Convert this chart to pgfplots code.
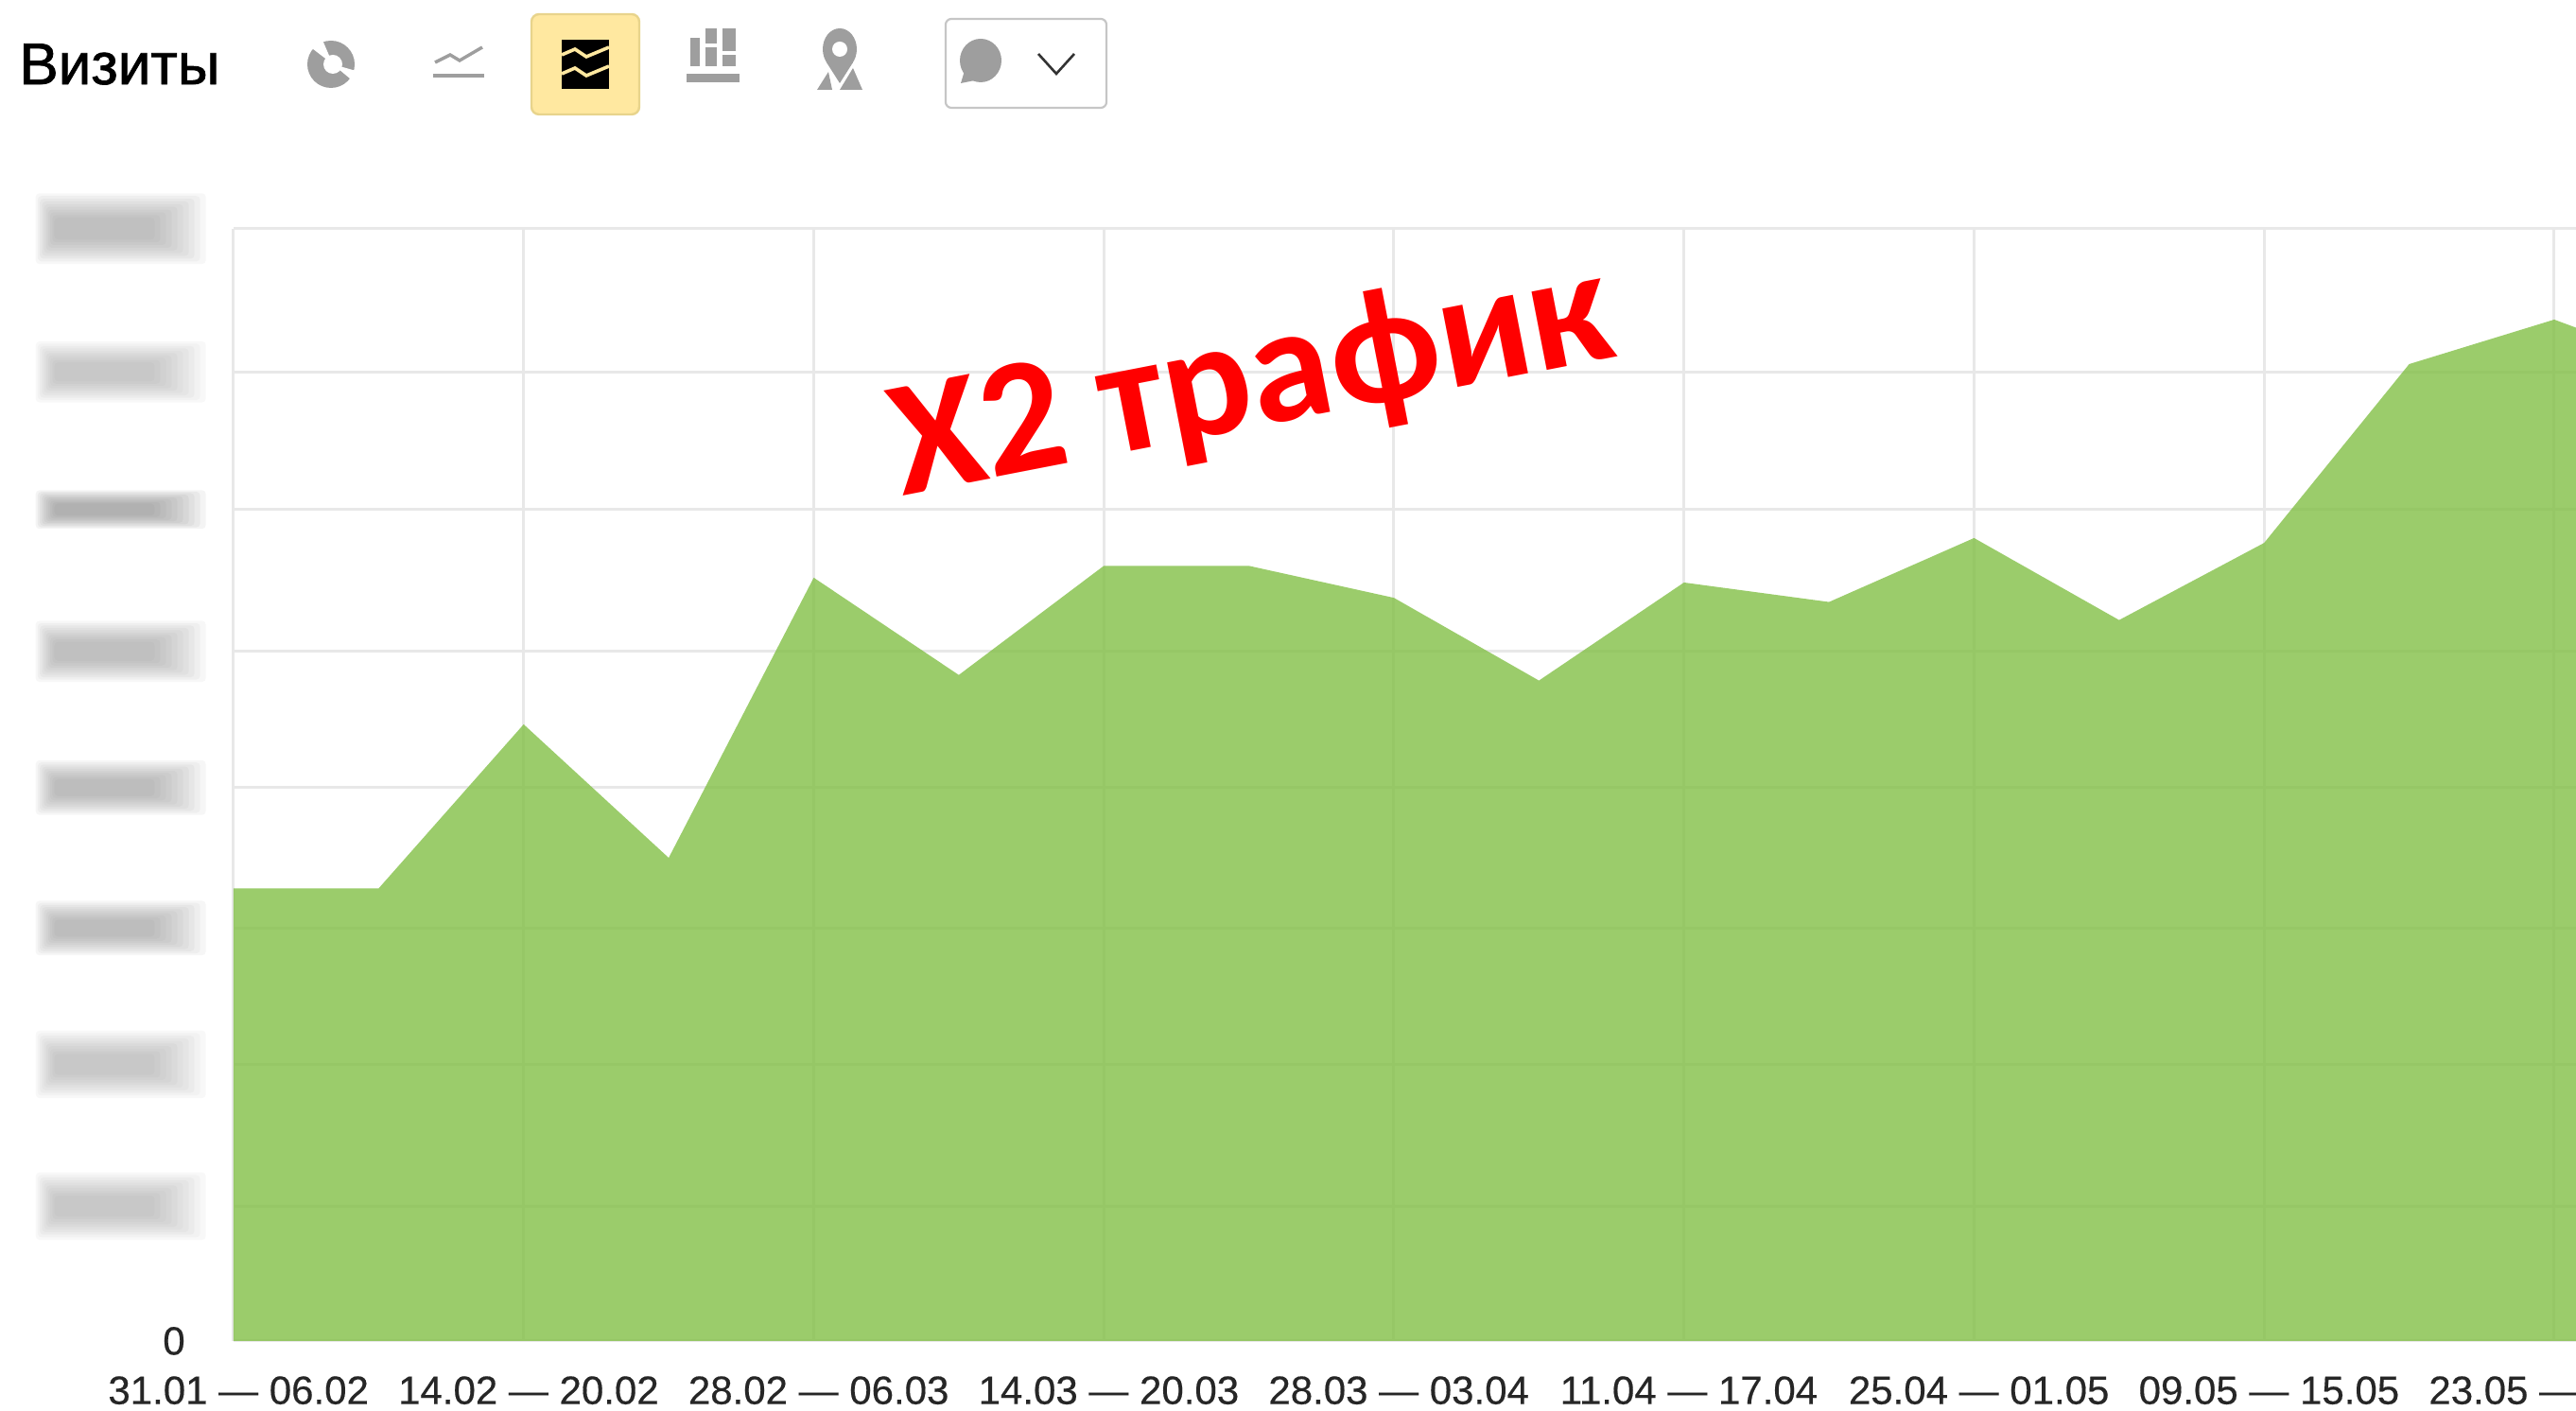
\documentclass[border=0pt]{standalone}
\usepackage{fontspec}
\setmainfont{Liberation Sans}
\newfontfamily\redfont{Carlito}
\newfontfamily\heavyfont[FakeBold=1.2]{Liberation Sans}
\newfontfamily\tickfont[FakeBold=0.4]{Liberation Sans}
\usepackage{pgfplots}
\pgfplotsset{compat=1.18}
\usetikzlibrary{calc}
\definecolor{fillgreen}{RGB}{130,191,70}
\definecolor{gridc}{RGB}{232,232,232}
\definecolor{icon}{RGB}{158,158,158}
\definecolor{btn}{RGB}{255,232,160}
\definecolor{btnedge}{RGB}{232,212,140}
% blurred-out tick label: stacked soft bars; #1 thickness, #2 layer opacity, #3 vertical offset
\newcommand{\blurlabel}[3]{\tikz[baseline=-0.5ex]{
  \path (0,0) rectangle (86,0);
  \foreach \i in {0,...,9}{
    \pgfmathsetmacro{\xa}{0-2+1.1*\i}
    \pgfmathsetmacro{\xb}{88-3.0*\i}
    \pgfmathsetmacro{\hh}{#1*(17-1.3*\i)}
    \fill[black!50,opacity=#2,rounded corners=2pt] (\xa pt,#3pt-\hh pt) rectangle (\xb pt,#3pt+\hh pt);
  }}}
\pgfplotstableread{
x y
0 325.5
1 325.5
2 443.5
3 347.5
4 549
5 479
6 557.5
7 557.5
8 534.5
9 475
10 545.5
11 531.5
12 577.5
13 518.5
14 574
15 702.6
16 734.6
17 696
}\visits
\begin{document}
\begin{tikzpicture}[x=1pt,y=1pt]
\path[use as bounding box,clip] (0,0) rectangle (1362,746);
\begin{axis}[
    at={(123.5pt,37pt)},
    anchor=origin,
    scale only axis,
    width=1238.5pt,
    height=588.1pt,
    xmin=0, xmax=16.15,
    ymin=0, ymax=800,
    clip=true,
    axis lines=left,
    axis line style={gridc,line width=1.5pt,-},
    tick style={draw=none},
    grid=major,
    grid style={gridc,line width=1.5pt},
    xtick={0,2,4,6,8,10,12,14,16},
    xticklabels={31.01 — 06.02,14.02 — 20.02,28.02 — 06.03,14.03 — 20.03,28.03 — 03.04,11.04 — 17.04,25.04 — 01.05,09.05 — 15.05,23.05 — 29.05},
    ytick={0,97,199,297,398,496,598,697,800},
    yticklabels={{0\kern11pt},
      {\blurlabel{1.05}{0.055}{3}},{\blurlabel{1.05}{0.055}{0}},{\blurlabel{0.85}{0.07}{2}},{\blurlabel{0.85}{0.07}{0}},
      {\blurlabel{0.95}{0.065}{3}},{\blurlabel{0.6}{0.09}{0}},{\blurlabel{0.95}{0.055}{3}},{\blurlabel{1.1}{0.065}{-1}}},
    ticklabel style={font=\tickfont\fontsize{21}{24}\selectfont,text=black!85},
    x tick label style={xshift=2.6pt,yshift=-13pt},
    y tick label style={xshift=-9pt},
    /pgf/number format/assume math mode=true,
]
\addplot[draw=none,fill=fillgreen,fill opacity=0.8] table[x=x,y=y] {\visits} \closedcycle;
\end{axis}
% red caption
\node[rotate=11,text=red,font=\redfont\bfseries\fontsize{87}{92}\selectfont] at (662,543) {X2 трафик};
% toolbar
\node[anchor=west,font=\heavyfont\fontsize{31}{34}\selectfont,inner sep=0pt] at (10,712) {Визиты};
% pie icon
\fill[icon] (175,712) circle (12.5);
\fill[white] (176,712) circle (5);
\fill[white] (176,712) -- (163,722) -- (170,726) -- cycle;
\fill[white] (176,712) -- (190,708) -- (188,702) -- cycle;
% line icon
\draw[icon,line width=1.7pt] (230,713) -- (238,717) -- (243,714) -- (255,721);
\draw[icon,line width=2pt] (229,706) -- (256,706);
% active button
\draw[rounded corners=4pt,draw=btnedge,fill=btn,line width=1.2pt] (281,685.5) rectangle (338,738.5);
\fill[black] (297,699) rectangle (322,725);
\draw[btn,line width=1.8pt] (297,707) -- (304,710) -- (310,706) -- (322,711);
\draw[btn,line width=1.8pt] (297,717) -- (304,720) -- (310,716) -- (322,721);
% bars icon
\fill[icon] (363,707) rectangle (391,702.5);
\fill[icon] (365,711) rectangle (370,726);
\fill[icon] (373,711) rectangle (379,721);
\fill[icon] (373,723) rectangle (379,731);
\fill[icon] (382,711) rectangle (389,717);
\fill[icon] (382,719) rectangle (389,731);
% map icon
\fill[icon] (444,720) ellipse (9 and 11);
\fill[white] (444,720) circle (4);
\fill[icon] (437,713) -- (451,713) -- (444,702) -- cycle;
\fill[icon] (432,698.5) -- (440,698.5) -- (438,708) -- cycle;
\fill[icon] (444,698.5) -- (456,698.5) -- (451,710) -- cycle;
% dropdown
\draw[gray!45,line width=1.1pt,rounded corners=3pt] (500,689) rectangle (585,736);
\fill[icon] (518.5,714) ellipse (11 and 11.5);
\fill[icon] (508,702) -- (511,712) -- (518,704) -- cycle;
\draw[black!80,line width=1.3pt] (549,717.5) -- (558.5,707) -- (568,717.5);
\end{tikzpicture}
\end{document}
